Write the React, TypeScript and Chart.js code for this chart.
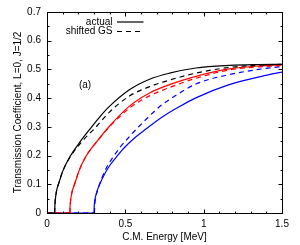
import React, { useEffect, useRef } from 'react';
import { Chart, registerables } from 'chart.js';
Chart.register(...registerables);

const FONT = '"Liberation Sans", Arial, Helvetica, sans-serif';

// C.M. energy [MeV] / transmission coefficient pairs
const blackSolidE = [0, 0.049, 0.05, 0.052, 0.056, 0.062, 0.076, 0.1, 0.145, 0.214, 0.278, 0.337, 0.4, 0.528, 0.655, 0.782, 0.95, 1.163, 1.35, 1.5];
const blackSolidT = [0, 0, 0.02, 0.04, 0.06, 0.08, 0.105, 0.145, 0.195, 0.25, 0.295, 0.335, 0.372, 0.43, 0.466, 0.487, 0.505, 0.514, 0.517, 0.518];

const blackDashE = [0, 0.049, 0.05, 0.052, 0.056, 0.062, 0.076, 0.1, 0.148, 0.225, 0.3, 0.4, 0.528, 0.655, 0.74, 0.95, 1.163, 1.35, 1.5];
const blackDashT = [0, 0, 0.02, 0.04, 0.06, 0.08, 0.105, 0.145, 0.195, 0.25, 0.292, 0.352, 0.408, 0.44, 0.456, 0.487, 0.507, 0.515, 0.518];

const redSolidE = [0, 0.146, 0.147, 0.15, 0.155, 0.163, 0.176, 0.203, 0.246, 0.32, 0.4, 0.528, 0.655, 0.782, 0.95, 1.163, 1.35, 1.5];
const redSolidT = [0, 0, 0.02, 0.04, 0.06, 0.08, 0.1, 0.145, 0.195, 0.25, 0.303, 0.373, 0.418, 0.447, 0.476, 0.502, 0.512, 0.516];

const redDashE = [0, 0.146, 0.147, 0.15, 0.155, 0.163, 0.176, 0.203, 0.246, 0.32, 0.4, 0.528, 0.655, 0.782, 0.95, 1.163, 1.35, 1.5];
const redDashT = [0, 0, 0.02, 0.04, 0.06, 0.08, 0.1, 0.145, 0.195, 0.25, 0.301, 0.366, 0.408, 0.437, 0.469, 0.498, 0.509, 0.513];

const blueSolidE = [0, 0.3, 0.301, 0.304, 0.309, 0.316, 0.325, 0.348, 0.375, 0.405, 0.45, 0.496, 0.55, 0.612, 0.74, 0.85, 0.95, 1.163, 1.37, 1.5];
const blueSolidT = [0, 0, 0.02, 0.04, 0.055, 0.07, 0.085, 0.114, 0.143, 0.169, 0.2, 0.229, 0.257, 0.284, 0.336, 0.372, 0.401, 0.447, 0.476, 0.491];

const blueDashE = [0, 0.303, 0.304, 0.307, 0.312, 0.32, 0.33, 0.35, 0.379, 0.422, 0.464, 0.538, 0.59, 0.718, 0.782, 0.95, 1.163, 1.35, 1.5];
const blueDashT = [0, 0, 0.02, 0.04, 0.058, 0.074, 0.092, 0.122, 0.157, 0.195, 0.227, 0.273, 0.303, 0.37, 0.395, 0.449, 0.482, 0.5, 0.51];

const legendLabels = ['actual', 'shifted GS'];
const panelLabel = '(a)';
const xTitle = 'C.M. Energy [MeV]';
const yTitle = 'Transmission Coefficient, L=0, J=1/2';

export default function App() {
  const ref = useRef<HTMLCanvasElement>(null);

  useEffect(() => {
    if (!ref.current) return;
    Chart.defaults.font.family = FONT;
    Chart.defaults.font.size = 10;
    Chart.defaults.color = '#000';

    // the flat part below threshold and the rising part are split by a gap,
    // so the monotone spline of the rise is not flattened at the threshold
    const mk = (E: number[], T: number[]) => {
      const out: any[] = [];
      E.forEach((x, i) => {
        out.push({ x, y: T[i] });
        if (i > 0 && T[i] === 0 && i + 1 < T.length && T[i + 1] > 0) {
          out.push({ x, y: null });
          out.push({ x, y: T[i] });
        }
      });
      return out;
    };
    const ds = (label: string, E: number[], T: number[], color: string, dashed: boolean) => ({
      label,
      data: mk(E, T),
      borderColor: color,
      backgroundColor: color,
      borderWidth: 1.2,
      borderDash: dashed ? [5, 4] : [],
      pointRadius: 0,
      showLine: true,
      spanGaps: false,
      fill: false,
      cubicInterpolationMode: 'monotone' as const,
    });

    const isMultiple = (v: number, step: number) => Math.abs(v / step - Math.round(v / step)) < 1e-6;
    const fmt = (v: number) => String(Math.round(v * 100) / 100);

    const framePlugin = {
      id: 'framePlugin',
      afterDatasetsDraw(chart: any) {
        const { ctx, chartArea: a, scales } = chart;
        const L = Math.round(a.left) + 0.5;
        const R = Math.round(a.right) + 0.5;
        const T = Math.round(a.top) + 0.5;
        const B = Math.round(a.bottom) + 0.5;
        ctx.save();
        ctx.setLineDash([]);
        ctx.strokeStyle = '#000';
        ctx.lineWidth = 1;
        ctx.strokeRect(L, T, R - L, B - T);
        ctx.beginPath();
        scales.x.ticks.forEach((t: any) => {
          const major = isMultiple(t.value, 0.5);
          const len = major ? 4 : 2;
          const px = Math.round(scales.x.getPixelForValue(t.value)) + 0.5;
          ctx.moveTo(px, B); ctx.lineTo(px, B - len);
          ctx.moveTo(px, T); ctx.lineTo(px, T + len);
        });
        scales.y.ticks.forEach((t: any) => {
          const major = isMultiple(t.value, 0.1);
          const len = major ? 4 : 2;
          const py = Math.round(scales.y.getPixelForValue(t.value)) + 0.5;
          ctx.moveTo(L, py); ctx.lineTo(L + len, py);
          ctx.moveTo(R, py); ctx.lineTo(R - len, py);
        });
        ctx.stroke();

        // panel label
        ctx.fillStyle = '#000';
        ctx.font = `10px ${FONT}`;
        ctx.textAlign = 'center';
        ctx.textBaseline = 'middle';
        ctx.fillText(panelLabel, a.left + 38, a.top + 73);

        // legend
        ctx.textAlign = 'right';
        const lx = a.left + 65.5;
        const rows = [a.top + 10, a.top + 19.5];
        legendLabels.forEach((lab, i) => {
          ctx.fillText(lab, lx, rows[i]);
          ctx.beginPath();
          ctx.setLineDash(i === 0 ? [] : [5, 4]);
          ctx.lineWidth = 1.2;
          ctx.moveTo(lx + 4.5, rows[i]);
          ctx.lineTo(lx + 31, rows[i]);
          ctx.stroke();
        });
        ctx.restore();
      },
    };

    const chart = new Chart(ref.current, {
      type: 'scatter',
      data: {
        datasets: [
          ds('actual', blackSolidE, blackSolidT, '#000000', false),
          ds('shifted GS', blackDashE, blackDashT, '#000000', true),
          ds('actual', redSolidE, redSolidT, '#ff0000', false),
          ds('shifted GS', redDashE, redDashT, '#ff0000', true),
          ds('actual', blueSolidE, blueSolidT, '#0000ff', false),
          ds('shifted GS', blueDashE, blueDashT, '#0000ff', true),
        ],
      },
      options: {
        animation: false,
        responsive: true,
        maintainAspectRatio: false,
        layout: { padding: { left: 0, top: 9, right: 18, bottom: 0 } },
        plugins: { legend: { display: false }, tooltip: { enabled: false } },
        scales: {
          x: {
            type: 'linear',
            min: 0,
            max: 1.5,
            grid: { display: false, drawTicks: false },
            border: { display: false },
            ticks: {
              stepSize: 0.1,
              autoSkip: false,
              maxRotation: 0,
              padding: 5,
              color: '#000',
              font: { size: 10, family: FONT },
              callback: (v: any) => (isMultiple(Number(v), 0.5) ? fmt(Number(v)) : ''),
            },
            title: { display: true, text: xTitle, color: '#000', font: { size: 10, family: FONT }, padding: { top: 0, bottom: 1.5 } },
            afterFit: (s: any) => { s.height = 32; },
          },
          y: {
            type: 'linear',
            min: 0,
            max: 0.7,
            grid: { display: false, drawTicks: false },
            border: { display: false },
            ticks: {
              stepSize: 0.05,
              autoSkip: false,
              padding: 6,
              color: '#000',
              font: { size: 10, family: FONT },
              callback: (v: any) => (isMultiple(Number(v), 0.1) ? fmt(Number(v)) : ''),
            },
            title: { display: true, text: yTitle, color: '#000', font: { size: 10, family: FONT }, padding: { top: 12, bottom: 0 } },
            afterFit: (s: any) => { s.width = 47; },
          },
        },
      },
      plugins: [framePlugin],
    } as any);

    return () => chart.destroy();
  }, []);

  return (
    <div style={{ position: 'absolute', left: 0, top: 0, width: 300, height: 245, background: '#fff' }}>
      <canvas ref={ref} />
    </div>
  );
}
